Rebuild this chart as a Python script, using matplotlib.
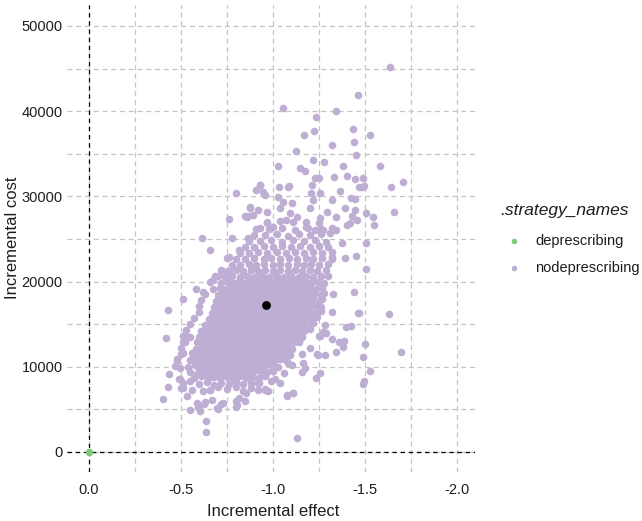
import matplotlib
matplotlib.use("Agg")
import matplotlib.pyplot as plt
from matplotlib.lines import Line2D
import numpy as np

plt.rcParams['font.family'] = ['Liberation Sans', 'DejaVu Sans']

# ---------------- data ----------------
strategy_names = ["deprescribing", "nodeprescribing"]
strategy_colors = ["#7FC97F", "#BEAED4"]

# reference strategy sits at the origin
deprescribing_effect = [0.0]
deprescribing_cost = [0.0]

# mean of the nodeprescribing cloud
mean_effect = [-0.962]
mean_cost = [17250]

# dense core of the cloud (effect, cost)
core_points = [
    (-0.50,7500),(-0.56,7300),(-0.62,7100),(-0.66,7280),(-0.70,7600),(-0.75,7400),(-0.80,7650),(-0.84,7200),(-0.88,7500),(-0.92,7300),(-0.96,7400),
    (-0.51,8100),(-0.55,8300),(-0.60,8000),(-0.64,8200),(-0.68,7900),(-0.72,8100),(-0.76,8000),(-0.80,8250),(-0.84,7950),(-0.88,8150),(-0.92,8050),(-0.99,8300),(-1.04,8100),
    (-0.49,8600),(-0.57,8700),(-0.61,8900),(-0.645,8600),(-0.68,8800),(-0.715,8650),(-0.75,8850),(-0.785,8700),(-0.82,8900),(-0.855,8650),(-0.89,8800),(-0.925,8700),(-0.96,8900),(-1.01,8600),
    (-0.55,9400),(-0.585,9200),(-0.62,9500),(-0.655,9350),(-0.69,9450),(-0.725,9300),(-0.76,9500),(-0.795,9350),(-0.83,9450),(-0.865,9300),(-0.90,9500),(-0.935,9400),(-0.97,9350),(-1.00,9550),(-1.06,9300),
    (-0.47,10100),(-0.54,10000),(-0.575,10200),(-0.61,10050),(-0.645,10150),(-0.68,10000),(-0.715,10200),(-0.75,10100),(-0.785,10000),(-0.82,10200),(-0.855,10050),(-0.89,10150),(-0.925,10000),(-0.96,10200),(-0.995,10100),(-1.03,10000),
    (-0.48,10700),(-0.55,10800),(-0.585,10650),(-0.62,10900),(-0.655,10750),(-0.69,10850),(-0.725,10700),(-0.76,10900),(-0.795,10750),(-0.83,10850),(-0.865,10700),(-0.90,10900),(-0.935,10750),(-0.97,10850),(-1.005,10700),(-1.04,10900),(-1.07,10750),
    (-0.50,11500),(-0.57,11400),(-0.605,11600),(-0.64,11450),(-0.675,11550),(-0.71,11400),(-0.745,11600),(-0.78,11450),(-0.815,11550),(-0.85,11400),(-0.885,11600),(-0.92,11500),(-0.955,11400),(-0.99,11600),(-1.025,11450),(-1.06,11550),(-1.095,11400),(-1.16,11500),
    (-0.50,12200),(-0.58,12100),(-0.615,12300),(-0.65,12150),(-0.685,12250),(-0.72,12100),(-0.755,12300),(-0.79,12150),(-0.825,12250),(-0.86,12100),(-0.895,12300),(-0.93,12200),(-0.965,12100),(-1.00,12300),(-1.035,12150),(-1.07,12250),(-1.105,12100),(-1.20,12200),
    (-0.52,12900),(-0.59,12850),(-0.625,13000),(-0.66,12800),(-0.695,12950),(-0.73,12850),(-0.765,13000),(-0.80,12800),(-0.835,12950),(-0.87,12850),(-0.905,13000),(-0.94,12800),(-0.975,12950),(-1.01,12850),(-1.045,13000),(-1.08,12800),(-1.115,12950),(-1.14,12850),
    (-0.51,13600),(-0.60,13550),(-0.635,13700),(-0.67,13500),(-0.705,13650),(-0.74,13550),(-0.775,13700),(-0.81,13500),(-0.845,13650),(-0.88,13550),(-0.915,13700),(-0.95,13500),(-0.985,13650),(-1.02,13550),(-1.055,13700),(-1.09,13500),(-1.125,13650),(-1.16,13550),
    (-0.53,14300),(-0.61,14250),(-0.645,14400),(-0.68,14200),(-0.715,14350),(-0.75,14250),(-0.785,14400),(-0.82,14200),(-0.855,14350),(-0.89,14250),(-0.925,14400),(-0.96,14200),(-0.995,14350),(-1.03,14250),(-1.065,14400),(-1.10,14200),(-1.135,14350),(-1.17,14250),(-1.20,14400),
    (-0.55,15000),(-0.63,14950),(-0.665,15100),(-0.70,14900),(-0.735,15050),(-0.77,14950),(-0.805,15100),(-0.84,14900),(-0.875,15050),(-0.91,14950),(-0.945,15100),(-0.98,14900),(-1.015,15050),(-1.05,14950),(-1.085,15100),(-1.12,14900),(-1.155,15050),(-1.19,14950),(-1.22,15100),
    (-0.57,15700),(-0.65,15650),(-0.685,15800),(-0.72,15600),(-0.755,15750),(-0.79,15650),(-0.825,15800),(-0.86,15600),(-0.895,15750),(-0.93,15650),(-0.965,15800),(-1.00,15600),(-1.035,15750),(-1.07,15650),(-1.105,15800),(-1.14,15600),(-1.175,15750),(-1.21,15650),(-1.24,15800),
    (-0.60,16400),(-0.67,16350),(-0.705,16500),(-0.74,16300),(-0.775,16450),(-0.81,16350),(-0.845,16500),(-0.88,16300),(-0.915,16450),(-0.95,16350),(-0.985,16500),(-1.02,16300),(-1.055,16450),(-1.09,16350),(-1.125,16500),(-1.16,16300),(-1.195,16450),(-1.23,16350),(-1.26,16500),(-1.32,16400),
    (-0.60,17100),(-0.68,17050),(-0.715,17200),(-0.75,17000),(-0.785,17150),(-0.82,17050),(-0.855,17200),(-0.89,17000),(-0.925,17150),(-0.99,17050),(-1.025,17200),(-1.06,17000),(-1.095,17150),(-1.13,17050),(-1.165,17200),(-1.20,17000),(-1.235,17150),(-1.26,17050),
    (-0.61,17800),(-0.69,17750),(-0.725,17900),(-0.76,17700),(-0.795,17850),(-0.83,17750),(-0.865,17900),(-0.90,17700),(-0.935,17850),(-0.97,17750),(-1.005,17900),(-1.04,17700),(-1.075,17850),(-1.11,17750),(-1.145,17900),(-1.18,17700),(-1.215,17850),(-1.25,17750),(-1.27,17900),
    (-0.63,18500),(-0.70,18450),(-0.735,18600),(-0.77,18400),(-0.805,18550),(-0.84,18450),(-0.875,18600),(-0.91,18400),(-0.945,18550),(-0.98,18450),(-1.015,18600),(-1.05,18400),(-1.085,18550),(-1.12,18450),(-1.155,18600),(-1.19,18400),(-1.225,18550),(-1.26,18450),(-1.28,18600),(-1.33,18500),
    (-0.71,19200),(-0.745,19100),(-0.78,19300),(-0.815,19150),(-0.85,19250),(-0.885,19100),(-0.92,19300),(-0.955,19150),(-0.99,19250),(-1.025,19100),(-1.06,19300),(-1.095,19150),(-1.13,19250),(-1.165,19100),(-1.20,19300),(-1.235,19150),(-1.27,19250),
    (-0.66,19900),(-0.72,19850),(-0.755,20000),(-0.79,19800),(-0.825,19950),(-0.86,19850),(-0.895,20000),(-0.93,19800),(-0.965,19950),(-1.00,19850),(-1.035,20000),(-1.07,19800),(-1.105,19950),(-1.14,19850),(-1.175,20000),(-1.21,19800),(-1.245,19950),(-1.28,19850),
    (-0.70,20600),(-0.74,20550),(-0.78,20700),(-0.82,20500),(-0.86,20650),(-0.90,20550),(-0.94,20700),(-0.98,20500),(-1.02,20650),(-1.06,20550),(-1.10,20700),(-1.14,20500),(-1.18,20650),(-1.22,20550),(-1.26,20700),(-1.30,20600),
    (-0.72,21300),(-0.76,21250),(-0.80,21400),(-0.84,21200),(-0.88,21350),(-0.92,21250),(-0.96,21400),(-1.00,21200),(-1.04,21350),(-1.08,21250),(-1.12,21400),(-1.16,21200),(-1.20,21350),(-1.24,21250),(-1.29,21400),
    (-0.78,22000),(-0.82,21950),(-0.87,22100),(-0.91,21900),(-0.95,22050),(-1.00,21950),(-1.04,22100),(-1.08,21900),(-1.13,22050),(-1.17,21950),(-1.21,22100),(-1.25,21900),(-1.30,22050),
    (-0.80,22700),(-0.85,22650),(-0.90,22800),(-0.95,22600),(-0.99,22750),(-1.04,22650),(-1.09,22800),(-1.13,22600),(-1.18,22750),(-1.22,22650),(-1.27,22800),(-1.32,22700),
    (-0.82,23400),(-0.87,23350),(-0.92,23500),(-0.97,23300),(-1.02,23450),(-1.07,23350),(-1.12,23500),(-1.17,23300),(-1.22,23450),(-1.27,23350),(-1.32,23500),
    (-0.85,24100),(-0.90,24050),(-0.95,24200),(-1.00,24000),(-1.05,24150),(-1.10,24050),(-1.15,24200),(-1.20,24000),(-1.25,24150),(-1.30,24050),
    (-0.87,24800),(-0.93,24750),(-0.99,24900),(-1.05,24700),(-1.11,24850),(-1.17,24750),(-1.23,24900),(-1.29,24700),
    (-0.90,25500),(-0.96,25450),(-1.02,25600),(-1.08,25400),(-1.14,25550),(-1.20,25450),(-1.26,25600),
    (-0.91,26200),(-0.98,26150),(-1.05,26300),(-1.12,26100),(-1.19,26250),(-1.26,26150),(-1.32,26300),
    (-0.97,26900),(-1.04,27100),(-1.11,26950),(-1.18,27050),(-1.25,26900),
]

# extra points packed between the core rows, where the cloud is solid (cost, effects)
fill_rows = [
    (9050,  [-0.63,-0.67,-0.705,-0.74,-0.775,-0.81,-0.845,-0.88]),
    (9750,  [-0.60,-0.635,-0.67,-0.705,-0.74,-0.775,-0.81,-0.845,-0.88,-0.915,-0.95]),
    (10450, [-0.595,-0.63,-0.665,-0.70,-0.735,-0.77,-0.805,-0.84,-0.875,-0.91,-0.945,-0.98]),
    (11150, [-0.60,-0.64,-0.675,-0.71,-0.745,-0.78,-0.815,-0.85,-0.885,-0.92,-0.955,-0.99,-1.03]),
    (11850, [-0.61,-0.645,-0.68,-0.715,-0.75,-0.785,-0.82,-0.855,-0.89,-0.925,-0.96,-0.995,-1.03,-1.07]),
    (12550, [-0.62,-0.655,-0.69,-0.725,-0.76,-0.795,-0.83,-0.865,-0.90,-0.935,-0.97,-1.005,-1.04,-1.075]),
    (13250, [-0.63,-0.665,-0.70,-0.735,-0.77,-0.805,-0.84,-0.875,-0.91,-0.945,-0.98,-1.015,-1.05,-1.085,-1.12]),
    (13950, [-0.64,-0.675,-0.71,-0.745,-0.78,-0.815,-0.85,-0.885,-0.92,-0.955,-0.99,-1.025,-1.06,-1.095,-1.13]),
    (14650, [-0.655,-0.69,-0.725,-0.76,-0.795,-0.83,-0.865,-0.90,-0.935,-0.97,-1.005,-1.04,-1.075,-1.11,-1.145]),
    (15350, [-0.67,-0.705,-0.74,-0.775,-0.81,-0.845,-0.88,-0.915,-0.95,-0.985,-1.02,-1.055,-1.09,-1.125,-1.16]),
    (16050, [-0.69,-0.725,-0.76,-0.795,-0.83,-0.865,-0.90,-0.935,-0.97,-1.005,-1.04,-1.075,-1.11,-1.145,-1.18]),
    (16750, [-0.70,-0.735,-0.77,-0.805,-0.84,-0.875,-0.91,-0.945,-0.98,-1.015,-1.05,-1.085,-1.12,-1.155,-1.19]),
    (17450, [-0.71,-0.745,-0.78,-0.815,-0.85,-0.885,-0.92,-1.00,-1.035,-1.07,-1.105,-1.14,-1.175,-1.21]),
    (18150, [-0.73,-0.765,-0.80,-0.835,-0.87,-0.905,-0.94,-0.975,-1.01,-1.045,-1.08,-1.115,-1.15,-1.185,-1.22]),
    (18850, [-0.75,-0.785,-0.82,-0.855,-0.89,-0.925,-0.96,-0.995,-1.03,-1.065,-1.10,-1.135,-1.17,-1.205]),
    (19550, [-0.77,-0.805,-0.84,-0.875,-0.91,-0.945,-0.98,-1.015,-1.05,-1.085,-1.12,-1.155,-1.19]),
    (20250, [-0.82,-0.87,-0.92,-0.97,-1.02,-1.07,-1.12,-1.17,-1.22]),
]

# scattered points around the core (effect, cost)
outer_points = [
    (-1.640,45160),(-1.462,41950),(-1.058,40350),(-1.344,40070),(-1.237,39290),(-1.437,37920),(-1.170,37250),(-1.225,37650),
    (-1.529,37250),(-1.442,36430),(-1.324,36040),(-1.125,35370),(-1.455,34830),(-1.027,33610),(-1.219,34280),(-1.281,34050),
    (-1.150,33340),(-1.176,32950),(-1.380,33610),(-1.585,33610),(-1.250,32130),(-1.332,32290),(-1.406,32440),(-1.447,32020),
    (-1.493,32170),(-0.929,31380),(-1.033,31080),(-1.087,31230),(-1.212,31350),(-1.498,31230),(-1.641,31080),(-1.708,31730),
    (-0.797,30370),(-0.911,30760),(-0.947,30560),(-0.957,30170),(-0.875,28730),(-0.866,27710),(-0.850,27710),(-0.759,27320),
    (-0.616,25170),(-0.777,25170),(-0.864,25170),(-0.659,23710),(-0.815,23710),(-0.759,22890),(-0.748,22740),(-0.727,21250),
    (-0.685,20600),(-0.672,20190),(-0.580,19100),(-0.621,18820),(-0.672,19140),(-0.509,17930),(-0.431,16700),
    (-1.659,28140),(-1.545,27620),(-1.549,26650),(-1.509,28100),(-1.446,29700),(-1.446,28410),(-1.460,27240),(-1.406,26650),
    (-1.431,27740),(-1.509,24570),(-1.378,24500),(-1.324,22930),(-1.391,22810),(-1.455,23010),
    (-1.505,21450),(-1.469,16280),(-1.632,16200),(-1.442,18750),(-1.500,12680),(-1.491,11190),(-1.696,11780),(-1.527,9510),
    (-1.498,8370),(-1.491,7980),(-1.234,8720),(-1.255,9240),
    (-1.342,11780),(-1.283,11390),(-1.238,11470),(-1.324,13230),(-1.360,12950),(-1.388,13070),(-1.382,12360),(-1.400,14710),
    (-1.427,14830),(-1.283,14910),(-1.273,14120),(-1.255,13620),(-1.246,11390),(-1.250,13620),(-1.288,14010),(-1.188,14710),
    (-1.464,16280),(-1.083,10410),(-1.102,10210),(-1.165,10410),(-1.174,9830),(-1.156,9430),
    (-1.132,1680),(-1.076,6610),(-1.107,6930),(-0.926,8070),(-0.957,7280),(-0.975,7160),(-1.078,6690),(-1.110,6890),
    (-0.400,6260),(-0.431,7600),(-0.437,9190),(-0.418,13350),(-0.531,6610),(-0.549,4930),(-0.594,5320),(-0.603,4810),
    (-0.630,5900),(-0.667,6100),(-0.699,5010),(-0.730,5790),(-0.799,5250),(-0.806,5520),(-0.848,6020),(-0.853,6960),
    (-0.585,5720),(-0.627,5670),(-0.658,7280),(-0.509,7480),(-0.495,8570),(-0.636,3640),(-0.636,2310),(-0.694,5130),
    (-0.716,5600),(-0.802,6000),(-0.815,6300),
    (-0.513,12950),(-0.522,13740),(-0.549,13540),(-0.558,11590),(-0.513,11590),(-0.477,10920),(-0.495,9830),
    (-1.219,29580),(-1.255,30370),(-1.324,29580),(-1.364,30680),(-1.487,31150),(-1.469,31080),(-1.427,29780),(-1.391,28610),
    (-1.346,27620),(-1.292,28210),(-1.255,27440),(-1.201,28610),(-1.183,26450),(-1.228,26060),(-1.273,26060),(-1.310,25670),
    (-1.346,26060),(-1.418,26850),
    (-0.875,28610),(-0.920,28410),(-0.857,27620),(-0.893,27820),(-0.966,28140),(-0.929,26260),(-0.966,27040),(-1.029,29970),
    (-1.083,31150),(-1.056,29390),(-1.102,29200),(-1.092,28020),(-1.129,27620),(-1.038,28610),(-1.074,27240),(-1.002,26450),
    (-1.210,30370),(-1.228,32130),(-0.929,31350),
]

x_ticks = [0.0, -0.5, -1.0, -1.5, -2.0]
x_tick_labels = ["0.0", "-0.5", "-1.0", "-1.5", "-2.0"]
y_ticks = [0, 10000, 20000, 30000, 40000, 50000]
y_tick_labels = ["0", "10000", "20000", "30000", "40000", "50000"]

# ---------------- figure ----------------
W, H = 642, 521
fig = plt.figure(figsize=(W / 100, H / 100), dpi=100)
ax = fig.add_axes([67 / W, 1 - 472 / H, (475 - 67) / W, (472 - 5) / H])

fill_points = [(x, c) for c, xs in fill_rows for x in xs]
nodep = np.array(core_points + fill_points + outer_points)
ax.scatter(nodep[:, 0], nodep[:, 1], s=30, color=strategy_colors[1], linewidths=0, zorder=3)
ax.scatter(deprescribing_effect, deprescribing_cost, s=30, color=strategy_colors[0], linewidths=0, zorder=4)
ax.scatter(mean_effect, mean_cost, s=40, color="black", linewidths=0, zorder=5)

ax.set_xlim(0.12, -2.10)
ax.set_ylim(-2350, 52460)

ax.set_xticks(x_ticks)
ax.set_xticklabels(x_tick_labels)
ax.set_yticks(y_ticks)
ax.set_yticklabels(y_tick_labels)
ax.set_xticks([-0.25, -0.75, -1.25, -1.75], minor=True)
ax.set_yticks([5000, 15000, 25000, 35000, 45000], minor=True)

grid_kw = dict(color="#C4C4C4", linestyle=(0, (4, 3)), linewidth=0.9)
ax.grid(True, which="both", **grid_kw)
ax.set_axisbelow(True)

ax.axvline(0, color="black", linestyle=(0, (3.5, 3)), linewidth=0.9, zorder=2)
ax.axhline(0, color="black", linestyle=(0, (3.5, 3)), linewidth=0.9, zorder=2)

for s in ax.spines.values():
    s.set_visible(False)
ax.tick_params(which="both", length=0, labelsize=10.5, colors="#1E1E1E")
ax.tick_params(axis="y", pad=3)
ax.tick_params(axis="x", pad=8)

fig.text(273 / W, 1 - 511 / H, "Incremental effect", ha="center", va="center", fontsize=12, color="#1E1E1E")
fig.text(13 / W, 1 - 238 / H, "Incremental cost", ha="center", va="center", rotation=90, fontsize=12, color="#1E1E1E")

# legend
fig.text(500 / W, 1 - 211 / H, ".strategy_names", ha="left", va="center", fontsize=12.5, style="italic", color="#1E1E1E")
for i, (name, col) in enumerate(zip(strategy_names, strategy_colors)):
    yy = 1 - (241 + 27 * i) / H
    fig.add_artist(Line2D([514 / W], [yy], marker="o", markersize=4, color=col, linestyle="none",
                          markeredgewidth=0, transform=fig.transFigure))
    fig.text(535 / W, yy, name, ha="left", va="center", fontsize=10.5, color="#1E1E1E")

fig.savefig("out.png", dpi=100)
